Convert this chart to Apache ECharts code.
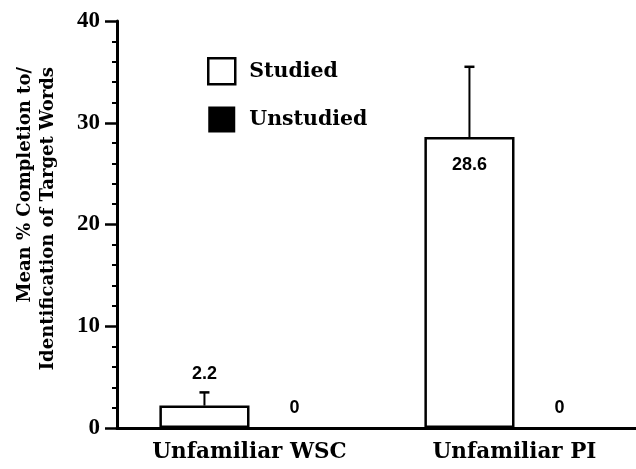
<!DOCTYPE html>
<html>
<head>
<meta charset="utf-8">
<script src="https://cdn.jsdelivr.net/npm/echarts@6/dist/echarts.min.js"></script>
<style>html,body{margin:0;padding:0;background:#fff}#c{width:636px;height:469px}</style>
</head>
<body>
<div id="c"></div>
<script>
const categories = ['Unfamiliar WSC', 'Unfamiliar PI'];
const studied = [2.2, 28.6];
const unstudied = [0, 0];
const studiedErrTop = [3.5, 35.5];
const yTicks = [0, 10, 20, 30, 40];

const chart = echarts.init(document.getElementById('c'), null, {renderer: 'canvas'});
const serif = '"DejaVu Serif", serif';
const numSerif = '"Liberation Serif", serif';
const sans = '"Liberation Sans", Arial, sans-serif';
const GAP = 0.32;

const option = {
  backgroundColor: '#fff',
  animation: false,
  grid: {left: 117, top: 21, bottom: 41, width: 530, containLabel: false, outerBoundsMode: 'none'},
  legend: {
    orient: 'vertical', left: 202, top: 52,
    itemWidth: 27, itemHeight: 26, itemGap: 21,
    icon: 'rect',
    textStyle: {fontFamily: serif, fontWeight: 'bold', fontSize: 20.5, color: '#000', padding: [0, 0, 0, 9]},
    data: [
      {name: 'Studied', itemStyle: {color: '#fff', borderColor: '#000', borderWidth: 2.5}},
      {name: 'Unstudied', itemStyle: {color: '#000', borderColor: '#000', borderWidth: 0}}
    ]
  },
  xAxis: {
    type: 'category', data: categories,
    axisLine: {lineStyle: {color: '#000', width: 3}},
    axisTick: {show: false},
    axisLabel: {fontFamily: serif, fontWeight: 'bold', fontSize: 21.5, color: '#000', margin: 13}
  },
  yAxis: {
    type: 'value', min: yTicks[0], max: yTicks[yTicks.length - 1], interval: 10,
    axisLine: {show: true, lineStyle: {color: '#000', width: 3}},
    axisTick: {show: true, inside: false, length: 12, lineStyle: {color: '#000', width: 2.5}},
    minorTick: {show: true, splitNumber: 5, length: 5, lineStyle: {color: '#000', width: 2}},
    splitLine: {show: false},
    axisLabel: {fontFamily: numSerif, fontWeight: 'bold', fontSize: 23, color: '#000', margin: 17}
  },
  graphic: [
    {type: 'text', x: 25, y: 67, rotation: Math.PI / 2,
     style: {text: 'Mean % Completion to/', fontFamily: serif, fontWeight: 'bold', fontSize: 18, fill: '#000', align: 'right', verticalAlign: 'middle'}},
    {type: 'text', x: 48, y: 67, rotation: Math.PI / 2,
     style: {text: 'Identification of Target Words', fontFamily: serif, fontWeight: 'bold', fontSize: 18, fill: '#000', align: 'right', verticalAlign: 'middle'}}
  ],
  series: [
    {
      name: 'Studied', type: 'bar', barGap: 0, barCategoryGap: (GAP * 100) + '%',
      itemStyle: {color: '#fff', borderColor: '#000', borderWidth: 2.5},
      data: [
        {value: studied[0], label: {show: true, position: 'top', distance: 23}},
        {value: studied[1], label: {show: true, position: 'insideTop', distance: 19}}
      ],
      label: {fontFamily: sans, fontWeight: 'bold', fontSize: 18, color: '#000'}
    },
    {
      name: 'Unstudied', type: 'bar', barGap: 0, barCategoryGap: (GAP * 100) + '%',
      itemStyle: {color: '#000', borderColor: '#000', borderWidth: 0},
      data: unstudied,
      label: {show: true, position: 'top', distance: 11, fontFamily: sans, fontWeight: 'bold', fontSize: 18, color: '#000'}
    },
    {
      name: 'err', type: 'custom', z: 5,
      data: studied.map((v, i) => [i, v, studiedErrTop[i]]),
      renderItem: function (params, api) {
        const i = api.value(0);
        const base = api.coord([i, api.value(1)]);
        const top = api.coord([i, api.value(2)]);
        const bandW = api.size([1, 0])[0];
        const barW = bandW * (1 - GAP) / 2;
        const x = base[0] - barW / 2;
        const cap = 5;
        return {
          type: 'group',
          children: [
            {type: 'line', shape: {x1: x, y1: base[1], x2: x, y2: top[1]}, style: {stroke: '#000', lineWidth: 2}},
            {type: 'line', shape: {x1: x - cap, y1: top[1], x2: x + cap, y2: top[1]}, style: {stroke: '#000', lineWidth: 2.5}}
          ]
        };
      }
    }
  ]
};
chart.setOption(option);
</script>
</body>
</html>
